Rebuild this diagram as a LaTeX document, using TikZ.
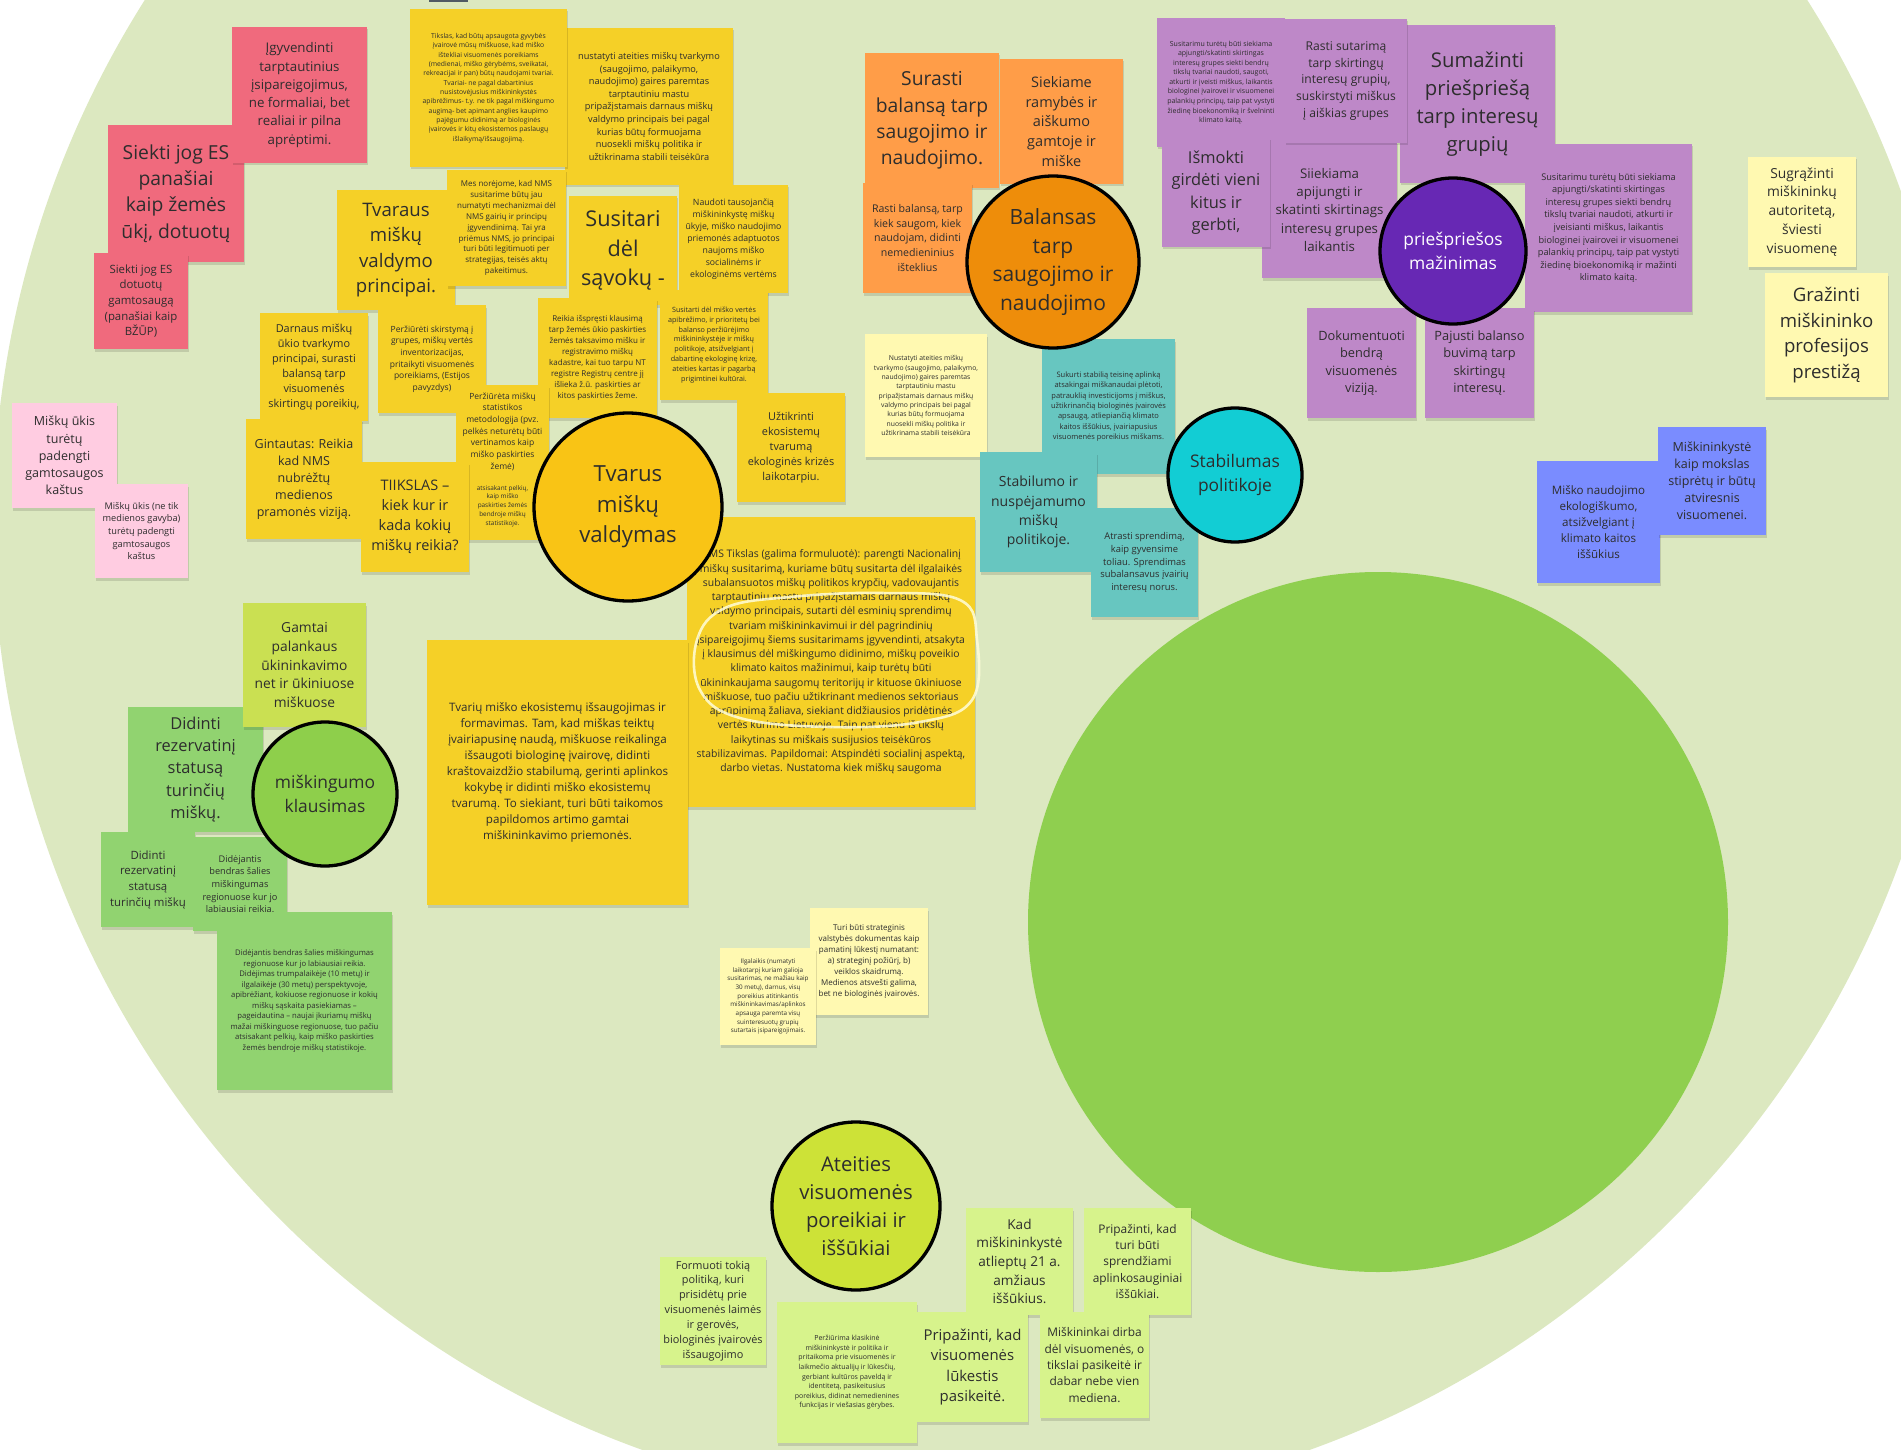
\documentclass[tikz,border=0pt]{standalone}
\usepackage{fontspec}
\setmainfont{Open Sans}
\definecolor{bgc}{RGB}{220,232,192}
\definecolor{biggreen}{RGB}{143,207,79}
\definecolor{txt}{RGB}{45,45,45}
\definecolor{redn}{RGB}{240,106,125}
\definecolor{pinkn}{RGB}{255,204,225}
\definecolor{yelln}{RGB}{245,208,39}
\definecolor{lyelln}{RGB}{255,249,177}
\definecolor{orangen}{RGB}{255,157,72}
\definecolor{purpn}{RGB}{190,136,200}
\definecolor{tealn}{RGB}{103,198,192}
\definecolor{bluen}{RGB}{122,140,255}
\definecolor{greenn}{RGB}{145,211,112}
\definecolor{limen}{RGB}{202,224,82}
\definecolor{plimen}{RGB}{215,243,140}
\definecolor{cyell}{RGB}{249,196,21}
\definecolor{corange}{RGB}{238,141,10}
\definecolor{cpurp}{RGB}{103,40,180}
\definecolor{ccyan}{RGB}{18,205,212}
\definecolor{cgreen}{RGB}{142,207,75}
\definecolor{clime}{RGB}{205,226,55}
\definecolor{slate}{RGB}{80,90,100}
\newcommand\fs[1]{\pgfmathsetmacro\tmpbs{1.37*#1}\fontsize{#1}{\tmpbs}\selectfont}
\newcommand\stk[8]{%
  \fill[black,opacity=0.12] (#2+1.2,#3+2.5) rectangle (#4+1.2,#5+2.5);
  \fill[#6] (#2,#3) rectangle (#4,#5);
  \node[notetext,font=\fs{#7}] (#1) at ({(#2+#4)/2},{(#3+#5)/2}) {#8};}
\newcommand\crc[7]{%
  \node[circ,#5,minimum size=2*#4,font=\fs{#6}] (#1) at (#2,#3) {#7};}
\tikzset{
  notetext/.style={align=center,text=txt,inner sep=0pt},
  circ/.style={circle,draw=black,line width=3.3pt,align=center,text=txt,inner sep=0pt},
}
\begin{document}
\begin{tikzpicture}[x=1pt,y=-1pt]
\useasboundingbox (0,0) rectangle (1901,1450);
\clip (0,0) rectangle (1901,1450);
\fill[white] (0,0) rectangle (1901,1450);
\fill[bgc] (976,525) circle (983);
\fill[biggreen] (1378,922) circle (350);
\fill[slate] (429,0) rectangle (468,2);

% red
\stk{r2}{108}{125}{244}{262}{redn}{19.3}{Siekti jog ES\\panašiai\\kaip žemės\\ūkį, dotuotų}
\stk{r1}{232}{27}{367}{163}{redn}{13.3}{Įgyvendinti\\tarptautinius\\įsipareigojimus,\\ne formaliai, bet\\realiai ir pilna\\aprėptimi.}
\stk{r3}{94}{253}{188}{349}{redn}{11.4}{Siekti jog ES\\dotuotų\\gamtosaugą\\(panašiai kaip\\BŽŪP)}
% pink
\stk{p1}{12}{403}{117}{508}{pinkn}{12.5}{Miškų ūkis\\turėtų\\padengti\\gamtosaugos\\kaštus}
\stk{p2}{95}{484}{188}{578}{pinkn}{9.2}{Miškų ūkis (ne tik\\medienos gavyba)\\turėtų padengti\\gamtosaugos\\kaštus}
% yellow
\stk{y2}{565}{28}{733}{185}{yelln}{9.2}{nustatyti ateities miškų tvarkymo\\(saugojimo, palaikymo,\\naudojimo) gaires paremtas\\tarptautiniu mastu\\pripažįstamais darnaus miškų\\valdymo principais bei pagal\\kurias būtų formuojama\\nuosekli miškų politika ir\\užtikrinama stabili teisėkūra}
\stk{y1}{410}{9}{567}{167}{yelln}{6.8}{Tikslas, kad būtų apsaugota gyvybės\\įvairovė mūsų miškuose, kad miško\\ištekliai visuomenės poreikiams\\(medienai, miško gėrybėms, sveikatai,\\rekreacijai ir pan) būtų naudojami tvariai.\\Tvariai- ne pagal dabartinius\\nusistovėjusius miškininkystės\\apibrėžimus- t.y. ne tik pagal miškingumo\\augimą- bet apimant anglies kaupimo\\pajėgumu didinimą ar biologinės\\įvairovės ir kitų ekosistemos paslaugų\\išlaikymą/išsaugojimą.}
\stk{y4}{337}{190}{455}{310}{yelln}{18.6}{Tvaraus\\miškų\\valdymo\\principai.}
\stk{y3}{447}{170}{566}{286}{yelln}{8.0}{Mes norėjome, kad NMS\\susitarime būtų jau\\numatyti mechanizmai dėl\\NMS gairių ir principų\\įgyvendinimą. Tai yra\\priėmus NMS, jo principai\\turi būti legitimuoti per\\strategijas, teisės aktų\\pakeitimus.}
\stk{y6}{679}{185}{788}{293}{yelln}{8.7}{Naudoti tausojančią\\miškininkystę miškų\\ūkyje, miško naudojimo\\priemonės adaptuotos\\naujoms miško\\socialinėms ir\\ekologinėms vertėms}
\stk{y5}{569}{196}{677}{305}{yelln}{21.7}{Susitari\\dėl\\sąvokų -}
\stk{y8}{660}{290}{768}{400}{yelln}{7.2}{Susitarti dėl miško vertės\\apibrėžimo, ir prioritetų bei\\balanso peržiūrėjimo\\miškininkystėje ir miškų\\politikoje, atsižvelgiant į\\dabartinę ekologinę krizę,\\ateities kartas ir pagarbą\\prigimtinei kultūrai.}
\stk{y7}{538}{298}{657}{418}{yelln}{8.0}{Reikia išspręsti klausimą\\tarp žemės ūkio paskirties\\žemės taksavimo mišku ir\\registravimo miškų\\kadastre, kai tuo tarpu NT\\registre Registrų centre jį\\išlieka ž.ū. paskirties ar\\kitos paskirties žeme.}
\stk{y9}{260}{313}{368}{421}{yelln}{10.9}{Darnaus miškų\\ūkio tvarkymo\\principai, surasti\\balansą tarp\\visuomenės\\skirtingų poreikių,}
\stk{y10}{378}{305}{486}{413}{yelln}{8.5}{Peržiūrėti skirstymą į\\grupes, miškų vertės\\inventorizacijas,\\pritaikyti visuomenės\\poreikiams, (Estijos\\pavyzdys)}
\stk{y13}{246}{419}{362}{539}{yelln}{12.5}{Gintautas: Reikia\\kad NMS\\nubrėžtų\\medienos\\pramonės viziją.}
\stk{y11}{456}{385}{549}{478}{yelln}{8.5}{Peržiūrėta miškų\\statistikos\\metodologija (pvz.\\pelkės neturėtų būti\\vertinamos kaip\\miško paskirties\\žemė)}
\stk{y12}{455}{472}{550}{540}{yelln}{6.4}{atsisakant pelkių,\\kaip miško\\paskirties žemės\\bendroje miškų\\statistikoje.}
\stk{y14}{361}{462}{469}{572}{yelln}{14.5}{TIIKSLAS –\\kiek kur ir\\kada kokių\\miškų reikia?}
\stk{y15}{737}{393}{845}{502}{yelln}{10.9}{Užtikrinti\\ekosistemų\\tvarumą\\ekologinės krizės\\laikotarpiu.}
\stk{y16}{687}{517}{975}{807}{yelln}{10.4}{NMS Tikslas (galima formuluotė): parengti Nacionalinį\\miškų susitarimą, kuriame būtų susitarta dėl ilgalaikės\\subalansuotos miškų politikos krypčių, vadovaujantis\\tarptautiniu mastu pripažįstamais darnaus miškų\\valdymo principais, sutarti dėl esminių sprendimų\\tvariam miškininkavimui ir dėl pagrindinių\\įsipareigojimų šiems susitarimams įgyvendinti, atsakyta\\į klausimus dėl miškingumo didinimo, miškų poveikio\\klimato kaitos mažinimui, kaip turėtų būti\\ūkininkaujama saugomų teritorijų ir kituose ūkiniuose\\miškuose, tuo pačiu užtikrinant medienos sektoriaus\\aprūpinimą žaliava, siekiant didžiausios pridėtinės\\vertės kūrimo Lietuvoje. Taip pat vienu iš tikslų\\laikytinas su miškais susijusios teisėkūros\\stabilizavimas. Papildomai: Atspindėti socialinį aspektą,\\darbo vietas. Nustatoma kiek miškų saugoma}
\draw[line width=2.6pt,color=white!85!yellow,opacity=0.85] plot[smooth cycle,tension=0.65] coordinates {(960,600) (880,593) (790,597) (725,608) (697,640) (700,690) (740,718) (830,727) (920,722) (972,700) (977,640)};
\stk{y17}{427}{640}{688}{905}{yelln}{11.6}{Tvarių miško ekosistemų išsaugojimas ir\\formavimas. Tam, kad miškas teiktų\\įvairiapusinę naudą, miškuose reikalinga\\išsaugoti biologinę įvairovę, didinti\\kraštovaizdžio stabilumą, gerinti aplinkos\\kokybę ir didinti miško ekosistemų\\tvarumą. To siekiant, turi būti taikomos\\papildomos artimo gamtai\\miškininkavimo priemonės.}
\crc{ctvar}{628}{507}{94}{fill=cyell}{22.2}{Tvarus\\miškų\\valdymas}
% teal / stability
\stk{ly1}{865}{334}{987}{457}{lyelln}{6.8}{Nustatyti ateities miškų\\tvarkymo (saugojimo, palaikymo,\\naudojimo) gaires paremtas\\tarptautiniu mastu\\pripažįstamais darnaus miškų\\valdymo principais bei pagal\\kurias būtų formuojama\\nuosekli miškų politika ir\\užtikrinama stabili teisėkūra}
\stk{t1}{1042}{339}{1175}{474}{tealn}{7.5}{Sukurti stabilią teisinę aplinką\\atsakingai miškanaudai plėtoti,\\patrauklią investicijoms į miškus,\\užtikrinančią biologinės įvairovės\\apsaugą, atliepiančią klimato\\kaitos iššūkius, įvairiapusius\\visuomenės poreikius miškams.}
\stk{t2}{980}{452}{1097}{572}{tealn}{14}{Stabilumo ir\\nuspėjamumo\\miškų\\politikoje.}
\stk{t3}{1091}{508}{1198}{617}{tealn}{9.4}{Atrasti sprendimą,\\kaip gyvensime\\toliau. Sprendimas\\subalansavus įvairių\\interesų norus.}
\crc{cstab}{1235}{475}{67}{fill=ccyan}{17.4}{Stabilumas\\politikoje}
% orange
\stk{o1}{865}{53}{999}{188}{orangen}{19.3}{Surasti\\balansą tarp\\saugojimo ir\\naudojimo.}
\stk{o2}{1000}{59}{1123}{184}{orangen}{14.5}{Siekiame\\ramybės ir\\aiškumo\\gamtoje ir\\miške}
\stk{o3}{863}{183}{972}{293}{orangen}{10.6}{Rasti balansą, tarp\\kiek saugom, kiek\\naudojam, didinti\\nemedieninius\\išteklius}
\crc{cbal}{1053}{262}{86}{fill=corange}{21}{Balansas\\tarp\\saugojimo ir\\naudojimo}
% purple
\stk{pu1}{1157}{18}{1285}{147}{purpn}{7.0}{Susitarimu turėtų būti siekiama\\apjungti/skatinti skirtingas\\interesų grupes siekti bendrų\\tikslų tvariai naudoti, saugoti,\\atkurti ir įveisti miškus, laikantis\\biologinei įvairovei ir visuomenei\\palankių principų, taip pat vystyti\\žiedinę bioekonomiką ir švelninti\\klimato kaitą.}
\stk{pu5}{1262}{142}{1397}{278}{purpn}{13.3}{Siiekiama\\apijungti ir\\skatinti skirtinags\\interesų grupes\\laikantis}
\stk{pu3}{1400}{25}{1555}{183}{purpn}{20.3}{Sumažinti\\priešpriešą\\tarp interesų\\grupių}
\stk{pu2}{1285}{19}{1407}{143}{purpn}{12.1}{Rasti sutarimą\\tarp skirtingų\\interesų grupių,\\suskirstyti miškus\\į aiškias grupes}
\stk{pu4}{1162}{138}{1270}{247}{purpn}{16.4}{Išmokti\\girdėti vieni\\kitus ir\\gerbti,}
\stk{pu6}{1525}{144}{1692}{312}{purpn}{9.2}{Susitarimu turėtų būti siekiama\\apjungti/skatinti skirtingas\\interesų grupes siekti bendrų\\tikslų tvariai naudoti, atkurti ir\\įveisianti miškus, laikantis\\biologinei įvairovei ir visuomenei\\palankių principų, taip pat vystyti\\žiedinę bioekonomiką ir mažinti\\klimato kaitą.}
\stk{pu7}{1307}{308}{1416}{418}{purpn}{12.8}{Dokumentuoti\\bendrą\\visuomenės\\viziją.}
\stk{pu8}{1425}{308}{1534}{418}{purpn}{12.8}{Pajusti balanso\\buvimą tarp\\skirtingų\\interesų.}
\crc{cpries}{1453}{251}{73}{fill=cpurp,text=white}{17.4}{priešpriešos\\mažinimas}
% right side
\stk{ly4}{1748}{157}{1856}{267}{lyelln}{13.8}{Sugrąžinti\\miškininkų\\autoritetą,\\šviesti\\visuomenę}
\stk{ly5}{1765}{273}{1888}{397}{lyelln}{18.6}{Gražinti\\miškininko\\profesijos\\prestižą}
\stk{b1}{1537}{461}{1660}{583}{bluen}{11.6}{Miško naudojimo\\ekologiškumo,\\atsižvelgiant į\\klimato kaitos\\iššūkius}
\stk{b2}{1658}{427}{1766}{535}{bluen}{12.5}{Miškininkystė\\kaip mokslas\\stiprėtų ir būtų\\atviresnis\\visuomenei.}
% green
\stk{g1}{128}{707}{263}{832}{greenn}{16.4}{Didinti\\rezervatinį\\statusą\\turinčių\\miškų.}
\stk{g0}{243}{603}{366}{727}{limen}{13.8}{Gamtai\\palankaus\\ūkininkavimo\\net ir ūkiniuose\\miškuose}
\stk{g2}{101}{832}{195}{927}{greenn}{11.4}{Didinti\\rezervatinį\\statusą\\turinčių miškų}
\stk{g3}{193}{837}{287}{931}{greenn}{9.2}{Didėjantis\\bendras šalies\\miškingumas\\regionuose kur jo\\labiausiai reikia.}
\stk{g4}{217}{912}{392}{1090}{greenn}{7.7}{Didėjantis bendras šalies miškingumas\\regionuose kur jo labiausiai reikia.\\Didėjimas trumpalaikėje (10 metų) ir\\ilgalaikėje (30 metų) perspektyvoje,\\apibrėžiant, kokiuose regionuose ir kokių\\miškų sąskaita pasiekiamas –\\pageidautina – naujai įkuriamų miškų\\mažai miškinguose regionuose, tuo pačiu\\atsisakant pelkių, kaip miško paskirties\\žemės bendroje miškų statistikoje.}
\crc{cmisk}{325}{794}{72}{fill=cgreen}{17.4}{miškingumo\\klausimas}
% light yellow middle
\stk{ly3}{810}{908}{928}{1015}{lyelln}{8.0}{Turi būti strateginis\\valstybės dokumentas kaip\\pamatinį lūkestį numatant:\\a) strateginį požiūrį, b)\\veiklos skaidrumą.\\Medienos atsvešti galima,\\bet ne biologinės įvairovės.}
\stk{ly2}{720}{948}{816}{1045}{lyelln}{6.3}{Ilgalaikis (numatyti\\laikotarpį kuriam galioja\\susitarimas, ne mažiau kaip\\30 metų), darnus, visų\\poreikius atitinkantis\\miškininkavimas/aplinkos\\apsauga paremta visų\\suinteresuotų grupių\\sutartais įsipareigojimais.}
% bottom
\crc{cate}{856}{1206}{84}{fill=clime}{20.3}{Ateities\\visuomenės\\poreikiai ir\\iššūkiai}
\stk{lg1}{660}{1257}{766}{1365}{plimen}{10.9}{Formuoti tokią\\politiką, kuri\\prisidėtų prie\\visuomenės laimės\\ir gerovės,\\biologinės įvairovės\\išsaugojimo}
\stk{lg2}{777}{1302}{917}{1443}{plimen}{7.0}{Peržiūrima klasikinė\\miškininkystė ir politika ir\\pritaikoma prie visuomenės ir\\laikmečio aktualijų ir lūkesčių,\\gerbiant kultūros paveldą ir\\identitetą, pasikeitusius\\poreikius, didinat nemedienines\\funkcijas ir viešasias gėrybes.}
\stk{lg5}{966}{1208}{1073}{1315}{plimen}{13.6}{Kad\\miškininkystė\\atlieptų 21 a.\\amžiaus\\iššūkius.}
\stk{lg6}{1084}{1208}{1191}{1315}{plimen}{11.9}{Pripažinti, kad\\turi būti\\sprendžiami\\aplinkosauginiai\\iššūkiai.}
\stk{lg3}{917}{1312}{1028}{1422}{plimen}{14.9}{Pripažinti, kad\\visuomenės\\lūkestis\\pasikeitė.}
\stk{lg4}{1040}{1312}{1149}{1418}{plimen}{11.9}{Miškininkai dirba\\dėl visuomenės, o\\tikslai pasikeitė ir\\dabar nebe vien\\mediena.}
\end{tikzpicture}
\end{document}
